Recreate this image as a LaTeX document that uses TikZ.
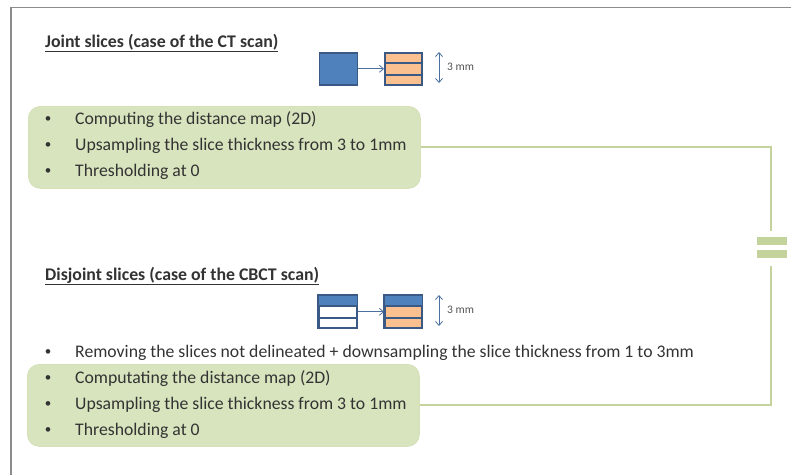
\documentclass[tikz,border=0pt]{standalone}
\usepackage{fontspec}
\setmainfont{Carlito}
\usetikzlibrary{arrows.meta}
\definecolor{gfill}{HTML}{D7E4BD}
\definecolor{gline}{HTML}{C3D39B}
\definecolor{bfill}{HTML}{4F81BD}
\definecolor{bline}{HTML}{3A5A85}
\definecolor{ofill}{HTML}{FAC090}
\definecolor{txt}{HTML}{333333}
\definecolor{arr}{HTML}{4A6FA0}
\tikzset{
  greenbox/.style={draw=gline!70!white, fill=gfill, rounded corners=12pt, line width=0.8pt, anchor=north west, minimum width=392pt, minimum height=82pt, inner sep=0pt},
  bullet/.style={anchor=west, inner sep=0pt, font=\fontsize{17.7}{20}\selectfont, text=txt},
  bdot/.style={anchor=center, inner sep=0pt, font=\fontsize{13}{15}\selectfont, text=txt},
  title/.style={anchor=west, inner sep=0pt, font=\fontsize{17.8}{20}\selectfont\bfseries, text=txt},
  conn/.style={draw=gline, line width=2pt},
  eqbar/.style={fill=gline, draw=none},
  slice/.style={draw=bline, line width=1.6pt},
  harr/.style={draw=arr, line width=0.8pt, -{Straight Barb[length=4pt,width=7pt]}},
  darr/.style={draw=arr, line width=0.8pt, {Straight Barb[length=4pt,width=7pt]}-{Straight Barb[length=4pt,width=7pt]}},
  small/.style={anchor=west, inner sep=0pt, font=\fontsize{11.5}{13}\selectfont, text=txt!85!white},
}
\begin{document}
\begin{tikzpicture}[x=1pt,y=-1pt]
\useasboundingbox (0,0) rectangle (791,475);
% frame
\draw[draw=gray!90, line width=1.5pt] (11,475) -- (11,7.5) -- (791,7.5);

% ---------- Joint slices ----------
\node[title] (t1) at (45,43) {\underline{Joint slices (case of the CT scan)}};
% icon 1
\node[slice, fill=bfill, anchor=north west, minimum width=38pt, minimum height=32pt, inner sep=0pt] (a1) at (318.5,52) {};
\node[slice, fill=ofill, anchor=north west, minimum width=37pt, minimum height=32pt, inner sep=0pt] (b1) at (384,52) {};
\draw[slice] ([yshift=-10.7pt]b1.north west) -- ([yshift=-10.7pt]b1.north east);
\draw[slice] ([yshift=10.7pt]b1.south west) -- ([yshift=10.7pt]b1.south east);
\draw[harr] (a1.east) -- (b1.west);
\coordinate (d1a) at (439,52);
\coordinate (d1b) at (439,83);
\draw[darr] (d1a) -- (d1b);
\node[small] (m1) at (447,67) {3 mm};

% green box 1
\node[greenbox] (g1) at (28,106) {};
\node[bdot] (p11) at (48,120) {•};
\node[bullet] (l11) at (75,120) {Computing the distance map (2D)};
\node[bdot] (p12) at (48,146) {•};
\node[bullet] (l12) at (75,146) {Upsampling the slice thickness from 3 to 1mm};
\node[bdot] (p13) at (48,172) {•};
\node[bullet] (l13) at (75,172) {Thresholding at 0};

% ---------- Disjoint slices ----------
\node[title] (t2) at (45,276) {\underline{Disjoint slices (case of the CBCT scan)}};
% icon 2
\node[slice, fill=white, anchor=north west, minimum width=38pt, minimum height=32pt, inner sep=0pt] (a2) at (318,295) {};
\fill[bfill] ([shift={(0.8pt,-0.8pt)}]a2.north west) rectangle ([shift={(-0.8pt,-10.7pt)}]a2.north east);
\draw[slice] ([yshift=-10.7pt]a2.north west) -- ([yshift=-10.7pt]a2.north east);
\draw[slice] ([yshift=10.7pt]a2.south west) -- ([yshift=10.7pt]a2.south east);
\draw[slice] (a2.north west) rectangle (a2.south east);
\node[slice, fill=ofill, anchor=north west, minimum width=37pt, minimum height=32pt, inner sep=0pt] (b2) at (384,295) {};
\fill[bfill] ([shift={(0.8pt,-0.8pt)}]b2.north west) rectangle ([shift={(-0.8pt,-10.7pt)}]b2.north east);
\draw[slice] ([yshift=-10.7pt]b2.north west) -- ([yshift=-10.7pt]b2.north east);
\draw[slice] ([yshift=10.7pt]b2.south west) -- ([yshift=10.7pt]b2.south east);
\draw[slice] (b2.north west) rectangle (b2.south east);
\draw[harr] (a2.east) -- (b2.west);
\coordinate (d2a) at (439,295);
\coordinate (d2b) at (439,326);
\draw[darr] (d2a) -- (d2b);
\node[small] (m2) at (447,310) {3 mm};

\node[bdot] (p20) at (48,353) {•};
\node[bullet] (l20) at (75,353) {Removing the slices not delineated + downsampling the slice thickness from 1 to 3mm};

% green box 2
\node[greenbox] (g2) at (27,364) {};
\node[bdot] (p21) at (48,379) {•};
\node[bullet] (l21) at (75,379) {Computating the distance map (2D)};
\node[bdot] (p22) at (48,405) {•};
\node[bullet] (l22) at (75,405) {Upsampling the slice thickness from 3 to 1mm};
\node[bdot] (p23) at (48,431) {•};
\node[bullet] (l23) at (75,431) {Thresholding at 0};

% ---------- connector with equal sign ----------
\node[inner sep=0pt, minimum width=29pt, minimum height=21pt] (eq) at (772,247.5) {};
\fill[eqbar] (eq.north west) rectangle ([yshift=-8pt]eq.north east);
\fill[eqbar] ([yshift=8pt]eq.south west) rectangle (eq.south east);
\coordinate (eqt) at (771,231);
\coordinate (eqb) at (771,266);
\draw[conn] (g1.east) -| (eqt);
\draw[conn] (g2.east) -| (eqb);
\end{tikzpicture}
\end{document}
